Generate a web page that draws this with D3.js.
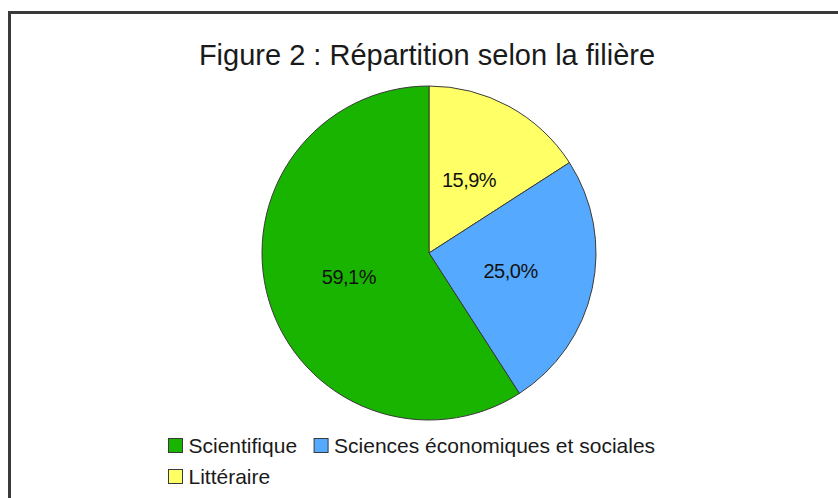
<!DOCTYPE html>
<html>
<head>
<meta charset="utf-8">
<script src="https://cdn.jsdelivr.net/npm/d3@7"></script>
<style>
  body { margin: 0; background: #fff; }
  svg { display: block; font-family: "Liberation Sans", Arial, sans-serif; }
</style>
</head>
<body>
<div id="chart"></div>
<script>
var width = 838, height = 498;

// Data
var categories = ["Scientifique", "Sciences économiques et sociales", "Littéraire"];
var values = [59.1, 25.0, 15.9];
var colors = ["#19b400", "#55aaff", "#ffff66"];
// order drawn clockwise from 12 o'clock
var drawOrder = [2, 1, 0];

var svg = d3.select("#chart")
  .append("svg")
  .attr("width", width)
  .attr("height", height);

// frame (only top & left edges visible)
svg.append("path")
  .attr("d", "M9.5," + height + "V12.5H" + width)
  .attr("fill", "none")
  .attr("stroke", "#3a3a3a")
  .attr("stroke-width", 3);

// Title
svg.append("text")
  .attr("x", 427)
  .attr("y", 65)
  .attr("text-anchor", "middle")
  .attr("font-size", "29px")
  .attr("fill", "#1a1a1a")
  .text("Figure 2 : Répartition selon la filière");

var cx = 429, cy = 253, radius = 167;

var pieData = drawOrder.map(function(i) {
  return { name: categories[i], value: values[i], color: colors[i] };
});

var pie = d3.pie()
  .sort(null)
  .value(function(d) { return d.value; });

var arc = d3.arc().innerRadius(0).outerRadius(radius);
var labelArc = d3.arc().innerRadius(radius / 2).outerRadius(radius / 2);

var g = svg.append("g")
  .attr("transform", "translate(" + cx + "," + cy + ")");

g.selectAll("path")
  .data(pie(pieData))
  .enter()
  .append("path")
  .attr("d", arc)
  .attr("fill", function(d) { return d.data.color; })
  .attr("stroke", "#3a3a3a")
  .attr("stroke-width", 1);

g.selectAll("text")
  .data(pie(pieData))
  .enter()
  .append("text")
  .attr("transform", function(d) { return "translate(" + labelArc.centroid(d) + ")"; })
  .attr("text-anchor", "middle")
  .attr("dy", "0.35em")
  .attr("font-size", "20px")
  .attr("letter-spacing", "-0.5px")
  .attr("fill", "#111")
  .text(function(d) { return d.data.value.toFixed(1).replace(".", ",") + "%"; });

// Legend (flow layout)
var legend = svg.append("g");
var lx = 168, ly = 438, rowH = 31, maxX = 700;
var x = lx, y = ly;
categories.forEach(function(name, i) {
  var item = legend.append("g");
  item.append("rect")
    .attr("width", 14)
    .attr("height", 14)
    .attr("fill", colors[i])
    .attr("stroke", "#3a3a3a")
    .attr("stroke-width", 1);
  var t = item.append("text")
    .attr("x", 20)
    .attr("y", 14)
    .attr("font-size", "21px")
    .attr("fill", "#1a1a1a")
    .text(name);
  var w = 20 + t.node().getComputedTextLength();
  if (x > lx && x + w > maxX) { x = lx; y += rowH; }
  item.attr("transform", "translate(" + (x + 0.5) + "," + (y + 0.5) + ")");
  x += w + 17;
});
</script>
</body>
</html>
